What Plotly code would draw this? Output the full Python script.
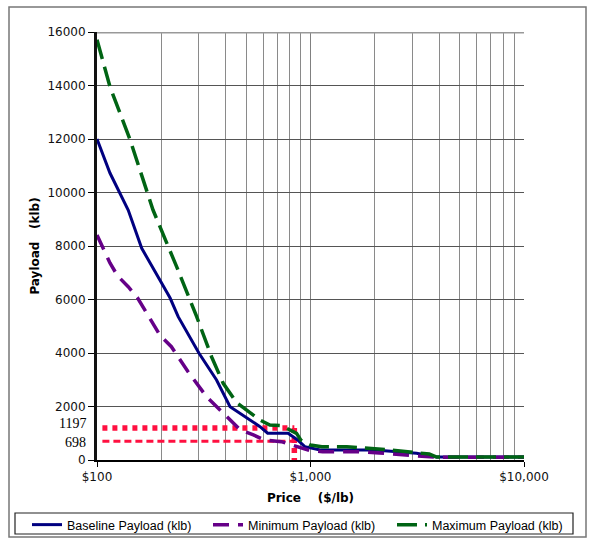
import plotly.graph_objects as go

# ---- data ----
base_price = [100, 115, 140, 162, 197, 220, 240, 300, 363, 420, 580, 630, 785, 870, 940, 1110, 1500, 2000, 3140, 3900, 10000]
base_vals  = [12000, 10728, 9345, 7913, 6728, 6055, 5357, 4000, 2990, 1992, 1246, 1000, 1000, 748, 497, 374, 374, 374, 250, 112, 112]

min_price = [100, 115, 125, 140, 155, 197, 223, 267, 326, 363, 405, 470, 540, 610, 730, 830, 975, 1140, 1650, 2100, 3250, 3900, 10000]
min_vals  = [8410, 7364, 6878, 6478, 6055, 4672, 4235, 3300, 2366, 1992, 1619, 1121, 935, 748, 684, 560, 374, 310, 310, 262, 125, 100, 100]

max_price = [100, 115, 143, 183, 236, 293, 344, 390, 450, 580, 645, 731, 860, 900, 1000, 1130, 1480, 2360, 3600, 3900, 10000]
max_vals  = [15710, 13955, 11962, 9345, 7226, 5357, 3861, 2867, 2150, 1495, 1308, 1283, 997, 748, 560, 497, 497, 374, 224, 112, 112]

ref_levels = [1197, 698]
ref_price_start = 106
ref_price_end = 840

y_ticks = [0, 2000, 4000, 6000, 8000, 10000, 12000, 14000, 16000]
x_ticks = [100, 1000, 10000]
x_ticktext = ["$100", "$1,000", "$10,000"]
x_minor = [200, 300, 400, 500, 600, 700, 800, 900, 2000, 3000, 4000, 5000, 6000, 7000, 8000, 9000]

fig = go.Figure()

# red reference lines (not in legend)
fig.add_trace(go.Scatter(x=[ref_price_start, ref_price_end], y=[ref_levels[0]] * 2, mode="lines",
                         line=dict(color="#ff1040", width=5.5, dash="5px,5px"), showlegend=False, hoverinfo="skip"))
fig.add_trace(go.Scatter(x=[ref_price_start, ref_price_end], y=[ref_levels[1]] * 2, mode="lines",
                         line=dict(color="#ff1040", width=3, dash="7px,4px"), showlegend=False, hoverinfo="skip"))
fig.add_trace(go.Scatter(x=[ref_price_end, ref_price_end], y=[ref_levels[0], 0], mode="lines",
                         line=dict(color="#ff1040", width=5.5, dash="5px,5px"), showlegend=False, hoverinfo="skip"))

fig.add_trace(go.Scatter(x=base_price, y=base_vals, mode="lines", name="Baseline Payload (klb)",
                         line=dict(color="#000080", width=3), legend="legend"))
fig.add_trace(go.Scatter(x=min_price, y=min_vals, mode="lines", name="Minimum Payload (klb)",
                         line=dict(color="#660088", width=3.5, dash="16px,9px"), legend="legend2"))
fig.add_trace(go.Scatter(x=max_price, y=max_vals, mode="lines", name="Maximum Payload (klb)",
                         line=dict(color="#006414", width=3.5, dash="20px,8px"), legend="legend3"))

legend_text_x = [68, 249, 433]
leg_common = dict(orientation="h", xref="container", yref="container", xanchor="left",
                  y=(539 - 510) / 539, yanchor="top", borderwidth=0, bgcolor="rgba(0,0,0,0)",
                  font=dict(family="Liberation Sans", size=12.5, color="black"))

fig.update_layout(
    width=590, height=539,
    margin=dict(l=97, r=66, t=32, b=79, autoexpand=False),
    paper_bgcolor="white", plot_bgcolor="white",
    font=dict(family="DejaVu Sans", size=12, color="black"),
    legend=dict(x=(legend_text_x[0] - 41) / 590, **leg_common),
    legend2=dict(x=(legend_text_x[1] - 41) / 590, **leg_common),
    legend3=dict(x=(legend_text_x[2] - 41) / 590, **leg_common),
    showlegend=True,
)

fig.update_xaxes(
    type="log", range=[2, 4], automargin=False,
    tickvals=x_ticks, ticktext=x_ticktext,
    showgrid=True, gridcolor="#808080", gridwidth=1,
    minor=dict(tickvals=x_minor, showgrid=True, gridcolor="#8a8a8a", gridwidth=1.2, ticks=""),
    ticks="outside", ticklen=5, tickcolor="black",
    showline=True, linecolor="black", linewidth=1.5,
    zeroline=False,
    tickfont=dict(family="DejaVu Sans", size=12, color="#111"),
    title=dict(text="Price\u00a0\u00a0\u00a0\u00a0($/lb)", font=dict(family="DejaVu Sans", size=12, weight="bold"), standoff=10),
)

fig.update_yaxes(
    range=[0, 16000], tickvals=y_ticks, ticktext=[str(v) for v in y_ticks], automargin=False,
    showgrid=True, gridcolor="#555555", gridwidth=1,
    ticks="outside", ticklen=6, tickcolor="black",
    showline=True, linecolor="#111", linewidth=3,
    zeroline=False,
    tickfont=dict(family="DejaVu Sans", size=12, color="#111"),
    title=dict(text="Payload\u00a0\u00a0\u00a0(klb)", font=dict(family="DejaVu Sans", size=12, weight="bold"), standoff=6),
)

# special level labels in serif
for lv, ys in zip(ref_levels, [4, -1]):
    fig.add_annotation(x=-0.021, xref="paper", y=lv, yref="y", text=str(lv), showarrow=False,
                       xanchor="right", yanchor="middle", yshift=ys,
                       font=dict(family="Liberation Serif", size=14, color="black"))

# thick gray top border of plot
fig.add_shape(type="line", xref="paper", yref="y", x0=0, x1=1, y0=16000, y1=16000,
              line=dict(color="#999999", width=3))
# outer chart border
fig.add_shape(type="rect", xref="paper", yref="paper",
              x0=(9 - 97) / 427, x1=(586 - 97) / 427, y0=(460 - 537) / 428, y1=(460 - 7) / 428,
              line=dict(color="#777777", width=1.5))
# legend box (shared by the three legend groups)
fig.add_shape(type="rect", xref="paper", yref="paper",
              x0=(15 - 97) / 427, x1=(573 - 97) / 427, y0=(460 - 534) / 428, y1=(460 - 513) / 428,
              line=dict(color="#222222", width=1.2))

fig.write_html("out.html", config={"displayModeBar": False},
               post_script="document.body.style.margin='0';document.body.style.overflow='hidden';")
